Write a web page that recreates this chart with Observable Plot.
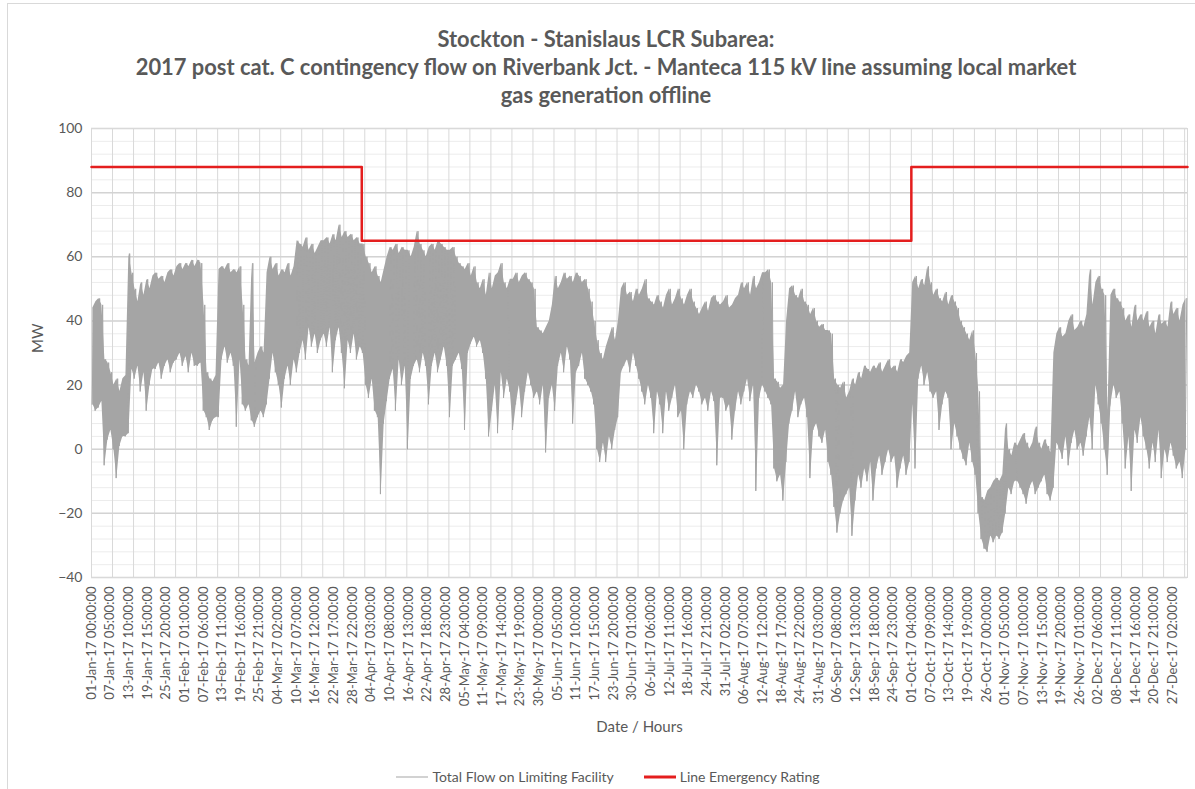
<!DOCTYPE html>
<html><head><meta charset="utf-8">
<script src="https://cdn.jsdelivr.net/npm/d3@7"></script>
<script src="https://cdn.jsdelivr.net/npm/@observablehq/plot@0.6"></script>
<style>
body{margin:0;background:#fff;font-family:Lato,"Open Sans",sans-serif;}
#wrap{position:relative;width:1195px;height:789px;overflow:hidden;background:#fff;}
#border{position:absolute;left:7px;top:3px;width:1300px;height:900px;border:1px solid #d9d9d9;}
#title{position:absolute;left:5px;width:1202px;top:25px;text-align:center;font-weight:bold;font-size:21.9px;line-height:28px;color:#595959;}
#chart{position:absolute;left:0;top:118px;}
#legend{position:absolute;left:7px;width:1202px;top:766px;text-align:center;font-size:14px;color:#595959;line-height:18px;}
#legend .item{display:inline-flex;align-items:center;gap:4px;}
</style></head>
<body>
<div id="wrap">
<div id="border"></div>
<div id="title">Stockton - Stanislaus LCR Subarea:<br>2017 post cat. C contingency flow on Riverbank Jct. - Manteca 115 kV line assuming local market<br>gas generation offline</div>
<div id="chart"></div>
<div id="legend"></div>
</div>
<script>
// ---- data ----
// daily high / low of hourly flow (MW), day 0 = 01-Jan-2017
const flowHigh = [
 44,46,47,45,28,27,24, 20,22,18,22,23,61,55, 50,46,52,48,53,50,54, 55,53,54,52,55,56,54,
 57,58,56,58,57,59,57, 59,58,45,24,22,21,23, 56,57,56,58,55,56,55, 57,45,28,26,58,27,30,
 32,30,55,60,56,58,54, 56,55,58,54,57,65,64, 63,66,62,64,61,63,65, 65,66,64,67,65,70,66,
 68,66,67,65,66,64,64, 60,58,55,57,54,52,56, 60,63,62,64,61,63,62, 62,60,63,68,64,62,60,
 63,64,62,65,64,63,62, 62,63,60,58,57,56,58, 54,57,52,50,53,48,55, 50,54,55,58,52,50,53,
 53,55,52,54,55,53,52, 50,38,37,36,38,40,45, 54,50,52,55,53,54,52, 55,54,52,53,50,46,40,
 34,30,28,32,35,38,34, 40,50,52,48,49,46,50, 48,50,53,47,46,45,48, 46,44,48,50,45,47,50,
 47,45,48,50,46,44,42, 44,46,43,47,48,46,45, 46,48,44,45,47,48,52, 50,52,48,54,50,52,55,
 55,56,52,22,21,19,20, 40,50,51,48,47,50,46, 45,42,44,40,38,39,37, 37,36,22,20,19,21,16,
 18,22,20,24,22,26,25, 24,26,25,27,24,26,28, 25,26,24,28,27,29,30, 52,54,50,53,51,57,52,
 48,50,47,46,49,45,48, 46,44,40,38,36,34,37, 30,18,-15,-16,-13,-12,-10, -9,-10,-8,8,0,-2,2,
 1,3,5,2,0,2,7, 2,0,3,1,-1,30,36, 38,35,36,40,42,37,38, 40,38,42,56,45,52,54,
 50,48,12,48,50,47,46, 44,40,42,38,45,40,42, 40,43,38,40,36,42,39, 40,38,46,42,44,40,45,
 47
];
const flowLow = [
 14,12,13,15,-5,3,6, 0,-9,1,4,4,5,25, 22,26,18,24,12,20,25, 25,27,22,26,28,24,27,
 28,30,26,29,24,30,26, 26,27,12,10,6,9,10, 10,28,32,27,30,26,7, 28,14,12,14,9,7,10,
 12,10,14,22,30,24,20, 13,22,26,20,28,24,30, 34,28,38,32,36,30,34, 36,32,38,24,34,38,30,
 19,34,30,36,28,32,30, 20,16,22,12,10,-14,8, 15,22,25,12,28,20,26, 0,22,26,28,24,30,26,
 14,26,30,24,28,32,26, 10,26,28,30,25,6,30, 33,35,32,34,30,22,4, 12,20,5,24,16,22,18,
 6,14,20,10,18,24,20, 16,18,14,20,-1,16,20, 12,26,30,24,32,28,8, 24,26,30,22,20,18,14,
 0,-4,2,-4,4,0,6, 10,24,26,28,24,30,26, 22,18,14,20,16,5,18, 14,5,18,12,16,20,10,
 12,0,14,18,16,20,18, 14,16,12,18,15,-5,16, 16,12,14,3,12,18,14, 18,22,15,20,-13,16,20,
 18,16,14,-6,-10,-8,-16, -4,8,12,18,10,14,16, 10,-9,6,8,4,2,6, -4,-8,-18,-26,-20,-16,-14,
 -12,-27,-16,-8,-12,-6,-10, -4,-16,-6,-2,-8,-4,0, -4,-2,-12,-6,-2,-8,-4, 14,-6,22,26,20,24,18,
 16,18,6,14,18,16,0, 8,4,0,-3,-5,2,-4, -8,-20,-28,-31,-32,-27,-29, -27,-28,-26,-20,-12,-14,-10,
 -10,-12,-14,-17,-12,-10,-14, -12,-10,-8,-14,-16,-12,2, 0,-3,4,-5,2,6,0, 2,-2,4,10,0,20,14,
 8,0,-8,14,20,16,18, 8,-6,4,-13,6,2,10, 4,0,-6,2,-4,6,-9, 0,-4,2,-2,-6,-4,-9,
 0
];
// line emergency rating (MW), in force from each start date
const ratingStart = ["2017-01-01T00:00Z", "2017-04-01T00:00Z", "2017-10-01T00:00Z", "2017-12-31T23:00Z"];
const ratingMW = [88, 65, 88, 88];
// axis ticks
const yTicks = [-40, -20, 0, 20, 40, 60, 80, 100];
const xTickLabels = [
 "01-Jan-17 00:00:00","07-Jan-17 05:00:00","13-Jan-17 10:00:00","19-Jan-17 15:00:00","25-Jan-17 20:00:00",
 "01-Feb-17 01:00:00","07-Feb-17 06:00:00","13-Feb-17 11:00:00","19-Feb-17 16:00:00","25-Feb-17 21:00:00",
 "04-Mar-17 02:00:00","10-Mar-17 07:00:00","16-Mar-17 12:00:00","22-Mar-17 17:00:00","28-Mar-17 22:00:00",
 "04-Apr-17 03:00:00","10-Apr-17 08:00:00","16-Apr-17 13:00:00","22-Apr-17 18:00:00","28-Apr-17 23:00:00",
 "05-May-17 04:00:00","11-May-17 09:00:00","17-May-17 14:00:00","23-May-17 19:00:00","30-May-17 00:00:00",
 "05-Jun-17 05:00:00","11-Jun-17 10:00:00","17-Jun-17 15:00:00","23-Jun-17 20:00:00","30-Jun-17 01:00:00",
 "06-Jul-17 06:00:00","12-Jul-17 11:00:00","18-Jul-17 16:00:00","24-Jul-17 21:00:00","31-Jul-17 02:00:00",
 "06-Aug-17 07:00:00","12-Aug-17 12:00:00","18-Aug-17 17:00:00","24-Aug-17 22:00:00","31-Aug-17 03:00:00",
 "06-Sep-17 08:00:00","12-Sep-17 13:00:00","18-Sep-17 18:00:00","24-Sep-17 23:00:00","01-Oct-17 04:00:00",
 "07-Oct-17 09:00:00","13-Oct-17 14:00:00","19-Oct-17 19:00:00","26-Oct-17 00:00:00","01-Nov-17 05:00:00",
 "07-Nov-17 10:00:00","13-Nov-17 15:00:00","19-Nov-17 20:00:00","26-Nov-17 01:00:00","02-Dec-17 06:00:00",
 "08-Dec-17 11:00:00","14-Dec-17 16:00:00","20-Dec-17 21:00:00","27-Dec-17 02:00:00"
];

// ---- build tables ----
const HOUR = 3600e3;
const t0 = new Date(Date.UTC(2017, 0, 1, 0));
const tEnd = new Date(Date.UTC(2017, 11, 31, 23));
const days = flowHigh.map((h, d) => ({t: new Date(+t0 + (d * 24 + 11) * HOUR), hi: h, lo: flowLow[d]}));
const flow = [];
flowHigh.forEach((h, d) => {
  flow.push({t: new Date(+t0 + (d * 24 + 5) * HOUR), v: flowLow[d]});
  flow.push({t: new Date(+t0 + (d * 24 + 17) * HOUR), v: h});
});
const rating = ratingStart.map((s, i) => ({t: new Date(s), v: ratingMW[i]}));
const parseTick = d3.utcParse("%d-%b-%y %H:%M:%S");
const fmtTick = d3.utcFormat("%d-%b-%y %H:%M:%S");
const tickDates = xTickLabels.map(parseTick);
const weeks = d3.utcSunday.range(t0, tEnd);
const yMinor = d3.range(-40, 101, 4);

const chart = Plot.plot({
  width: 1195, height: 627,
  marginLeft: 91, marginRight: 8, marginTop: 10, marginBottom: 168,
  x: {type: "utc", domain: [t0, tEnd]},
  y: {domain: [-40, 100]},
  style: {fontFamily: "Lato, 'Open Sans', sans-serif", color: "#595959", background: "transparent"},
  marks: [
    Plot.ruleY(yMinor, {stroke: "#ececec", strokeWidth: 1}),
    Plot.ruleX(weeks, {stroke: "#d9d9d9", strokeWidth: 1}),
    Plot.ruleY(yTicks, {stroke: "#d3d3d3", strokeWidth: 1.5}),
    Plot.frame({stroke: "#d9d9d9"}),
    Plot.axisY(yTicks, {tickSize: 0, tickPadding: 9, fontSize: 14, label: null}),
    Plot.axisX(tickDates, {tickSize: 0, tickPadding: 9, tickRotate: -90, tickFormat: fmtTick, fontSize: 13, label: null}),
    Plot.areaY(days, {x: "t", y1: "lo", y2: "hi", fill: "#a5a5a5", curve: "linear"}),
    Plot.line(flow, {x: "t", y: "v", stroke: "#a5a5a5", strokeWidth: 1}),
    Plot.line(rating, {x: "t", y: "v", stroke: "#e41e1e", strokeWidth: 2.5, curve: "step-after"}),
    Plot.text(["MW"], {text: d => d, frameAnchor: "left", dx: -53, rotate: -90, fontSize: 15, fill: "#595959"}),
    Plot.text(["Date / Hours"], {text: d => d, frameAnchor: "bottom", dy: 154, fontSize: 15, fill: "#595959"})
  ]
});
document.getElementById("chart").appendChild(chart);

// legend
const legendItems = [
  {label: "Total Flow on Limiting Facility", color: "#a5a5a5", width: 1},
  {label: "Line Emergency Rating", color: "#e41e1e", width: 3}
];
const lg = d3.select("#legend");
legendItems.forEach((it, i) => {
  const s = lg.append("span").attr("class", "item").style("margin-left", i ? "30px" : "0px");
  const sv = s.append("svg").attr("width", 32).attr("height", 6);
  sv.append("line").attr("x1", 0).attr("x2", 32).attr("y1", 3).attr("y2", 3)
    .attr("stroke", it.color).attr("stroke-width", it.width);
  s.append("span").text(it.label);
});
</script>
</body></html>
